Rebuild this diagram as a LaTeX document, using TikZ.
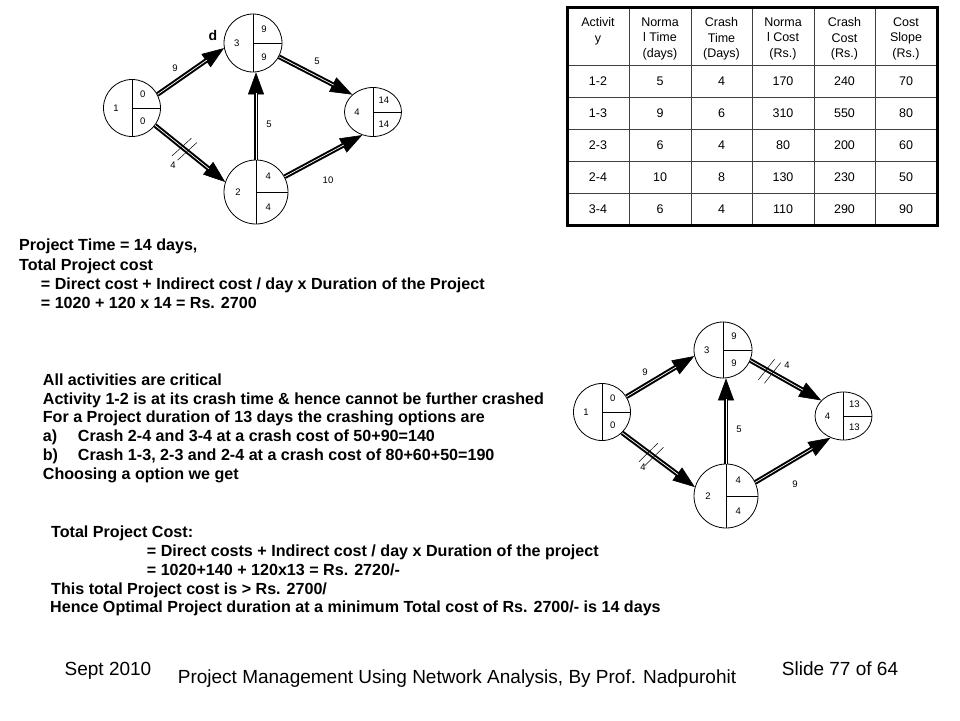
\documentclass[tikz,border=0pt]{standalone}
\usepackage{fontspec}
\setmainfont{Liberation Sans}
\usetikzlibrary{shapes.geometric,arrows.meta,calc}

\tikzset{
  ev/.style={draw, ellipse, line width=0.8pt, inner sep=0pt},
  evtxt/.style={font=\fontsize{9.5}{11}\selectfont, inner sep=0pt},
  conn/.style={-{Triangle[length=22pt,width=16pt]}, line width=0.6pt,
    postaction={draw, -, line width=2pt, double=white, double distance=0.7pt, shorten >=21pt}},
  crash/.pic={\draw[-, line width=0.5pt] (-5.5,13) -- (-1.5,-13) (1.5,13) -- (5.5,-13);},
  txt/.style={font=\fontsize{16.1}{19}\selectfont\bfseries, anchor=base west, inner sep=0pt},
  thead/.style={font=\fontsize{12.5}{15.5}\selectfont, align=center, anchor=north, inner sep=0pt},
  tcell/.style={font=\fontsize{12.5}{15}\selectfont, inner sep=0pt},
  foot/.style={font=\fontsize{19}{22}\selectfont, anchor=base, inner sep=0pt},
}

\begin{document}
\begin{tikzpicture}[x=1pt,y=-1pt]
  \fill[white] (0,0) rectangle (960,720);
  \useasboundingbox (0,0) rectangle (960,720);

  % event nodes, both networks
  \foreach \n/\px/\py/\w/\h/\id/\es/\lf in {
    a1/132/108/57/57/1/0/0, a2/256/192/64/64/2/4/4,
    a3/253/43/58/58/3/9/9, a4/373/112/57/49/4/14/14,
    b1/602/412/57/57/1/0/0, b2/726/496/64/64/2/4/4,
    b3/723/350/58/56/3/9/9, b4/843.5/416/57/48/4/13/13}
  {
    \node[ev, minimum width=\w pt, minimum height=\h pt] (\n) at (\px,\py) {};
    \draw[line width=0.8pt] (\n.north) -- (\n.south) (\n.center) -- (\n.east);
    \node[evtxt] (\n-id) at ($(\n.center)+(-0.28*\w,0)$) {\id};
    \node[evtxt] (\n-es) at ($(\n.center)+(0.19*\w,-0.24*\h)$) {\es};
    \node[evtxt] (\n-lf) at ($(\n.center)+(0.19*\w,0.24*\h)$) {\lf};
  }

  % durations
  \node[font=\fontsize{14}{16}\selectfont\bfseries, inner sep=0pt] (dlbl) at (213,35) {d};
  \foreach \n/\px/\py/\t in {a13/175/68/9, a34/317/61/5, a23/269/124/5, a12/173/165/4,
    a24/328/180/10, b13/645/372/9, b34/787/365/4, b23/739/429/5, b12/643/467/4, b24/795/484/9}
    {\node[evtxt] (l\n) at (\px,\py) {\t};}

  % activities
  \draw[conn] (a1.28) -- (a3.190);
  \draw[conn] (a1.-37) -- (a2.162);
  \draw[conn] (a2.north) -- (a2.north |- a3.south);
  \draw[conn] (a3.-28) -- (a4.140);
  \draw[conn] (a2.28) -- (a4.-115);
  \draw[conn] (b1.32) -- (b3.192);
  \draw[conn] (b1.-46) -- (b2.164);
  \draw[conn] (b2.north) -- (b2.north |- b3.south);
  \draw[conn] (b3.-21) -- (b4.145);
  \draw[conn] (b2.25) -- (b4.-121);

  % crashed activities
  \path (a1.-37) -- pic[pos=0.42, sloped] {crash} (a2.162);
  \path (b1.-46) -- pic[pos=0.4, sloped] {crash} (b2.164);
  \path (b3.-21) -- pic[pos=0.27, sloped] {crash} (b4.145);

  % table
  \draw[black!75, line width=1pt]
    foreach \cx in {629,691,752,814,875} {(\cx,7) -- (\cx,225)}
    foreach \ry in {65,97,129,161,193} {(567,\ry) -- (937,\ry)};
  \draw[line width=3pt] (567,7) rectangle (937,225);
  \foreach \cx/\t [count=\i] in {598/{Activit\\y}, 660/{Norma\\l Time\\(days)},
    721.5/{Crash\\Time\\(Days)}, 783/{Norma\\l Cost\\(Rs.)},
    844.5/{Crash\\Cost\\(Rs.)}, 906/{Cost\\Slope\\(Rs.)}}
    {\node[thead] (h\i) at (\cx,17.5) {\t};}
  \foreach \act/\nt/\ct/\nc/\cc/\cs [count=\r] in {1-2/5/4/170/240/70,
    1-3/9/6/310/550/80, 2-3/6/4/80/200/60, 2-4/10/8/130/230/50, 3-4/6/4/110/290/90}
  {
    \pgfmathsetmacro\ry{49+32*\r}
    \node[tcell] (act\r) at (598,\ry) {\act};
    \node[tcell] (nt\r) at (660,\ry) {\nt};
    \node[tcell] (ct\r) at (721.5,\ry) {\ct};
    \node[tcell] (nc\r) at (783,\ry) {\nc};
    \node[tcell] (cc\r) at (844.5,\ry) {\cc};
    \node[tcell] (cs\r) at (906,\ry) {\cs};
  }

  % working
  \foreach \px/\py/\t [count=\i] in {
    19/250.5/{Project Time = 14 days,},
    19/270/{Total Project cost},
    40.7/289/{= Direct cost + Indirect cost / day x Duration of the Project},
    40.7/308/{= 1020 + 120 x 14 = Rs. 2700},
    42.7/385/{All activities are critical},
    42.7/404/{Activity 1-2 is at its crash time \& hence cannot be further crashed},
    42.7/422.5/{For a Project duration of 13 days the crashing options are},
    42.7/441.5/{\makebox[35pt][l]{a)}Crash 2-4 and 3-4 at a crash cost of 50+90=140},
    42.7/460/{\makebox[35pt][l]{b)}Crash 1-3, 2-3 and 2-4 at a crash cost of 80+60+50=190},
    42.7/479/{Choosing a option we get},
    51/537/{Total Project Cost:},
    146.7/556/{= Direct costs + Indirect cost / day x Duration of the project},
    146.7/575/{= 1020+140 + 120x13 = Rs. 2720/-},
    51/594/{This total Project cost is > Rs. 2700/},
    50/612.5/{Hence Optimal Project duration at a minimum Total cost of Rs. 2700/- is 14 days}}
    {\node[txt] (line\i) at (\px,\py) {\t};}

  % footer
  \node[foot] (date) at (108,675) {Sept 2010};
  \node[foot] (title) at (457,683) {Project Management Using Network Analysis, By Prof. Nadpurohit};
  \node[foot] (slide) at (840,675) {Slide 77 of 64};
\end{tikzpicture}
\end{document}
